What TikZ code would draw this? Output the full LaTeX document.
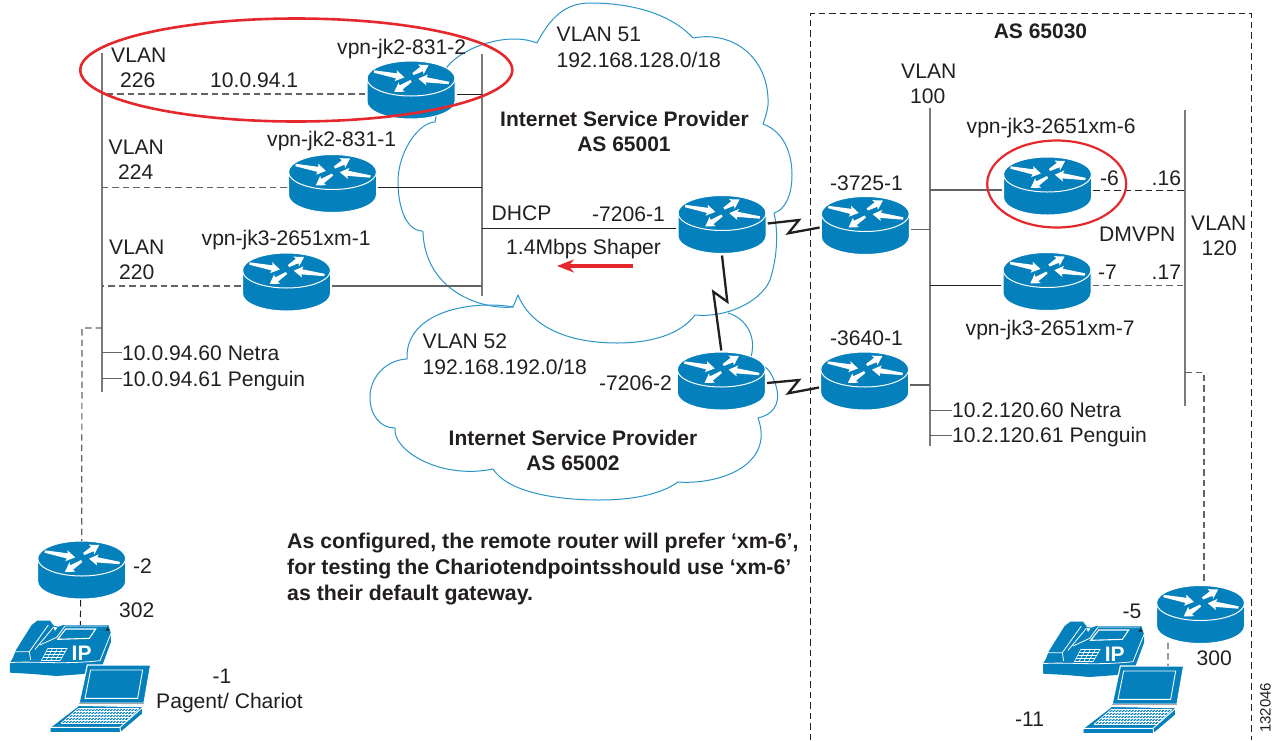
\documentclass[tikz,border=0pt]{standalone}
\usepackage{fontspec}
\setmainfont{Liberation Sans}
\usetikzlibrary{calc,arrows.meta}
\definecolor{rblue}{HTML}{0480BC}
\definecolor{cloudc}{HTML}{2A95C8}
\definecolor{ink}{HTML}{231F20}
\definecolor{greyl}{HTML}{7A7A7A}
\definecolor{redc}{HTML}{E6282D}
\newcommand{\fsz}[1]{\fontsize{#1}{#1}\selectfont}
\newcommand{\rarw}[4]{\fill[white,shift={(#1,#2)},rotate=#3] (0,-1.2)--({#4-8},-2.6)--({#4-9},-5.6)--(#4,0)--({#4-9},5.6)--({#4-8},2.6)--(0,1.2)--cycle;}
\tikzset{
  lab/.style={anchor=base west,font=\fsz{21.1},inner sep=0pt,text=ink,text height=15pt,text depth=4.5pt},
  labc/.style={lab,anchor=base},
  boldc/.style={labc,font=\fsz{21}\bfseries},
  bolda/.style={lab,font=\fsz{21.3}\bfseries},
  routernode/.style={inner sep=0pt,minimum width=91pt,minimum height=66pt},
  cloud/.style={draw=cloudc,line width=1pt},
  vbus/.style={draw=greyl,line width=1.8pt},
  seg/.style={draw=ink,line width=1pt},
  seggrey/.style={draw=ink!70,line width=1.2pt},
  dashln/.style={draw=ink,line width=1pt,dash pattern=on 6.5pt off 4pt},
  dashgr/.style={draw=ink!70,line width=1.2pt,dash pattern=on 6.5pt off 4pt},
  zz/.style={draw=ink,line width=2.3pt,line join=miter},
  redring/.style={draw=redc,line width=2.6pt},
  pics/routerglyph/.style={code={
    \filldraw[fill=rblue,draw=white,line width=1pt]
      (-44,-15.5) .. controls (-44,-25.2) and (-24.3,-33) .. (0,-33)
      .. controls (24.3,-33) and (44,-25.2) .. (44,-15.5) -- (44,7.5)
      .. controls (44,17.2) and (24.3,25) .. (0,25)
      .. controls (-24.3,25) and (-44,17.2) .. (-44,7.5) -- cycle;
    \draw[white,line width=1pt] (-44,-15.5) .. controls (-44,-5.8) and (-24.3,2) .. (0,2)
      .. controls (24.3,2) and (44,-5.8) .. (44,-15.5);
    \rarw{-37}{-22.5}{-11}{31}
    \rarw{2}{-20}{30}{18}
    \rarw{38}{-11}{172}{31}
    \rarw{0}{-13}{213}{20}
  }}
}
\newcommand{\rout}[3]{\node[routernode] (#1) at (#2,#3) {}; \pic at (#1) {routerglyph};}
% phone + laptop, drawn in a 3x grid
\newcommand{\phonelaptop}[3]{%
\begin{scope}[shift={(#1,#2)},x=.33333pt,y=-.33333pt]
  \fill[rblue] (30,398)--(38,385)--(48,360)--(95,285)--(112,272)--(150,272)--(162,288)--(175,290)--(190,285)--(325,285)--(333,310)--(333,335)--(302,420)--(250,432)--(170,438)--(100,432)--(30,428)--cycle;
  \draw[white,line width=.8pt] (30,398) .. controls (100,392) and (180,405) .. (300,392) -- (333,310);
  \draw[white,line width=.8pt] (42,365)--(88,365)--(92,390);
  \draw[white,line width=.8pt] (88,365)--(145,285);
  \draw[white,line width=.8pt] (105,358)--(160,292);
  \draw[white,line width=.8pt] (120,345)--(170,322)--(195,288)--(322,288);
  \filldraw[fill=rblue,draw=white,line width=1.1pt] (197,297)--(287,297)--(268,325)--(173,328)--cycle;
  \fill[white] (160,290)--(172,293)--(165,303)--cycle;
  \fill[ink] (316,302)--(323,292)--(328,302)--cycle;
  \foreach \t in {0,.25,.5,.75,1}
    \draw[white,line width=.6pt] ($(144,354)!\t!(124,392)$) -- ($(202,354)!\t!(180,392)$);
  \foreach \t in {0,.25,.5,.75,1}
    \draw[white,line width=.6pt] ($(144,354)!\t!(202,354)$) -- ($(124,392)!\t!(180,392)$);
  \node[inner sep=0pt,anchor=base,text=white,font=\fsz{21}\bfseries] (#3ip) at (245,391) {IP};
  % laptop
  \filldraw[fill=rblue,draw=white,line width=1.2pt] (262,405)--(452,405)--(432,520)--(237,520)--cycle;
  \draw[white,line width=.9pt] (272,420)--(428,420)--(413,505)--(255,505)--cycle;
  \filldraw[fill=rblue,draw=white,line width=1.2pt] (236,526)--(428,530)--(428,552)--(362,608)--(150,608)--(150,592)--cycle;
  \draw[white,line width=.9pt] (150,592)--(360,592)--(428,532);
  \draw[white,line width=.9pt] (360,592)--(362,608);
  \draw[black!35,line width=1pt] (237,521)--(432,521);
  \foreach \t in {0,.2,.4,.6,.8,1}
    \draw[white,line width=.7pt] ($(234,536)!\t!(183,580)$) -- ($(416,536)!\t!(372,580)$);
  \foreach \t in {0,.05,...,1.01}
    \draw[white,line width=.7pt] ($(234,536)!\t!(416,536)$) -- ($(183,580)!\t!(372,580)$);
  \coordinate (#3top) at (241,285);
  \coordinate (#3lap) at (405,405);
\end{scope}}
\begin{document}
\begin{tikzpicture}[x=1pt,y=-1pt]
\useasboundingbox (0,0) rectangle (1275,740);
\fill[white] (0,0) rectangle (1275,740);
% clouds
\draw[cloud,line join=round] (537,43) .. controls (550,18) and (565,3) .. (590,3)
  .. controls (640,3) and (675,18) .. (693,38)
  .. controls (735,30) and (770,60) .. (768,105) .. controls (767,113) and (765,118) .. (763,124)
  .. controls (785,132) and (792,155) .. (792,175) .. controls (792,195) and (785,210) .. (774,213)
  .. controls (778,230) and (778,255) .. (770,280) .. controls (760,303) and (725,318) .. (695,315)
  .. controls (680,335) and (650,343) .. (617,343) .. controls (565,343) and (530,325) .. (518,295)
  -- (513,307)
  .. controls (480,310) and (425,290) .. (423,232)
  -- (422,231) .. controls (405,230) and (398,205) .. (398,182)
  .. controls (398,150) and (420,122) .. (435,122) -- (436,117)
  -- (447,67) .. controls (465,45) and (510,32) .. (537,43);
\draw[cloud,line join=round] (513,307) .. controls (475,300) and (405,310) .. (407,359)
  .. controls (385,360) and (370,378) .. (370,397) .. controls (370,415) and (380,428) .. (395,428)
  .. controls (392,450) and (440,480) .. (493,469)
  .. controls (510,495) and (565,500) .. (600,500) .. controls (630,500) and (660,495) .. (678,482)
  .. controls (720,485) and (775,465) .. (758,418)
  .. controls (772,415) and (780,405) .. (777,390) .. controls (775,380) and (770,370) .. (765,367)
  -- (751,357) .. controls (757,335) and (745,318) .. (728,313);
% AS box
\draw[dashln] (810.7,740) -- (810.7,13) -- (1251,13) -- (1251,740);
% buses
\coordinate (busL) at (102,53);
\coordinate (busLe) at (102,392);
\coordinate (busM) at (482,54);
\coordinate (busMe) at (482,296);
\coordinate (busC) at (930,108);
\coordinate (busCe) at (930,446);
\coordinate (busR) at (1185,110);
\coordinate (busRe) at (1185,406);
\draw[vbus] (busL) -- (busLe);
\draw[vbus] (busM) -- (busMe);
\draw[vbus,line width=1.5pt] (busC) -- (busCe);
\draw[vbus] (busR) -- (busRe);
% routers
\rout{rA}{411}{94}
\rout{rB}{332.5}{187.5}
\rout{rC}{286.5}{286}
\rout{rD}{722}{228.5}
\rout{rE}{865.3}{229.5}
\rout{rF}{721.3}{385}
\rout{rG}{864.7}{385}
\rout{rH}{1047.5}{190}
\rout{rI}{1047}{285.5}
\rout{rJ}{81.7}{574}
\rout{rK}{1200.5}{618.5}
% phones and laptops
\phonelaptop{0}{530}{sa}
\phonelaptop{1033}{531}{sb}
% left connectors
\draw[dashgr] (rA.west) -- (rA.west -| busL);
\draw[seg] (rA.east) -- (rA.east -| busM);
\draw[dashgr] (rB.west) -- (rB.west -| busL);
\draw[seg] (rB.east) -- (rB.east -| busM);
\draw[dashgr] (rC.west) -- (rC.west -| busL);
\draw[seggrey] (rC.east) -- (rC.east -| busM);
\draw[seg] (rD.west) -- (rD.west -| busM);
\coordinate (tapL) at (102,328);
\draw[dashgr] (tapL) -- (82,328) -- ([yshift=33pt]rJ.center);
\draw[dashln] ([xshift=-1pt,yshift=-26pt]rJ.center) -- (satop);
% right connectors
\draw[seggrey] (rE.east) -- (rE.east -| busC);
\draw[seggrey] (rG.east) -- (rG.east -| busC);
\draw[seggrey] (rH.west) -- (rH.west -| busC);
\draw[seg] (rI.west) -- (rI.west -| busC);
\draw[dashln] (rH.east) -- (rH.east -| busR);
\draw[dashgr] (rI.east) -- (rI.east -| busR);
\coordinate (tapR) at (1185,372.5);
\draw[dashgr] (tapR) -- (1204,372.5) -- ([xshift=3.5pt,yshift=35pt]rK.center);
\draw[dashgr] ([xshift=-32.5pt,yshift=-24pt]rK.center) -- (sblap);
% serial links
\draw[zz] ([yshift=5pt]rD.east) -- (799,220) -- (788.3,233.3) -- ([yshift=2pt]rE.west);
\draw[zz] ([yshift=2pt]rF.east) -- (799,380) -- (788.3,393.3) -- ([yshift=-2.5pt]rG.west);
\draw[zz] ([yshift=-27pt]rD.center) -- (727.3,301.7) -- (713.3,291.7) -- ([yshift=34.5pt]rF.center);
% shaper arrow
\coordinate (shapeA) at (633,266);
\coordinate (shapeB) at (557,266);
\draw[redc,line width=3.6pt,-{Stealth[length=17pt,width=13pt]}] (shapeA) -- (shapeB);
% red rings
\draw[redring] (296.3,70) ellipse (216 and 51.5);
\draw[redring,line width=2.2pt] (1056.7,184) ellipse (69.5 and 43.5);
% labels
\node[lab] (t1) at (111,62) {VLAN};
\node[lab] (t2) at (120,87) {226};
\node[lab] (t3) at (210,87) {10.0.94.1};
\node[lab] (t4) at (337,54.5) {vpn-jk2-831-2};
\node[lab] (t5) at (108.5,154) {VLAN};
\node[lab] (t6) at (118,179) {224};
\node[lab] (t7) at (267,146.5) {vpn-jk2-831-1};
\node[lab] (t8) at (109,254) {VLAN};
\node[lab] (t9) at (119,279) {220};
\node[lab] (t10) at (201.5,245.5) {vpn-jk3-2651xm-1};
\node[lab] (t11) at (122,360) {10.0.94.60 Netra};
\node[lab] (t12) at (122,386) {10.0.94.61 Penguin};
\draw[seggrey] ([yshift=2pt]t11.west -| busL) -- ([yshift=2pt]t11.west);
\draw[seggrey] ([yshift=2pt]t12.west -| busL) -- ([yshift=2pt]t12.west);
\node[lab] (t13) at (556.5,41.5) {VLAN 51};
\node[lab] (t14) at (556.5,67.5) {192.168.128.0/18};
\node[boldc] (t15) at (624.5,126.5) {Internet Service Provider};
\node[boldc] (t16) at (624,151.5) {AS 65001};
\node[lab] (t17) at (491.5,220.5) {DHCP};
\node[lab] (t18) at (592,221) {-7206-1};
\node[lab] (t19) at (506,254) {1.4Mbps Shaper};
\node[lab] (t20) at (422.5,348.5) {VLAN 52};
\node[lab] (t21) at (422.5,374) {192.168.192.0/18};
\node[lab] (t22) at (599,390) {-7206-2};
\node[boldc] (t23) at (573,445) {Internet Service Provider};
\node[boldc] (t24) at (573,470.5) {AS 65002};
\node[boldc] (t25) at (1040.5,38) {AS 65030};
\node[lab] (t26) at (901,78) {VLAN};
\node[lab] (t27) at (910,103.5) {100};
\node[lab] (t28) at (830,190) {-3725-1};
\node[lab] (t29) at (830,345) {-3640-1};
\node[lab] (t30) at (966.5,133.5) {vpn-jk3-2651xm-6};
\node[lab] (t31) at (1100,185.5) {-6};
\node[lab] (t32) at (1151.5,185.5) {.16};
\node[lab] (t33) at (1099,241.5) {DMVPN};
\node[lab] (t34) at (1191,230.5) {VLAN};
\node[lab] (t35) at (1201.5,255.5) {120};
\node[lab] (t36) at (1098,279.5) {-7};
\node[lab] (t37) at (1151.5,279) {.17};
\node[lab] (t38) at (965.5,335) {vpn-jk3-2651xm-7};
\node[lab] (t39) at (952,417.5) {10.2.120.60 Netra};
\node[lab] (t40) at (952,442.5) {10.2.120.61 Penguin};
\draw[seggrey] ([yshift=1.5pt]t39.west -| busC) -- ([yshift=1.5pt]t39.west);
\draw[seggrey] ([yshift=1.5pt]t40.west -| busC) -- ([yshift=1.5pt]t40.west);
\node[bolda] (t41) at (287,548) {As configured, the remote router will prefer ‘xm-6’,};
\node[bolda] (t42) at (287,574.5) {for testing the Chariotendpointsshould use ‘xm-6’};
\node[bolda] (t43) at (287,600.5) {as their default gateway.};
\node[lab] (t44) at (133,573.5) {-2};
\node[lab] (t45) at (119,617.5) {302};
\node[lab] (t46) at (212.5,683) {-1};
\node[lab] (t47) at (156,708.5) {Pagent/ Chariot};
\node[lab] (t48) at (1122.5,618.5) {-5};
\node[lab] (t49) at (1196.5,665) {300};
\node[lab] (t50) at (1015,726) {-11};
\node[lab,rotate=90,font=\fsz{15},text height=11pt,text depth=0pt] (t51) at (1270.5,733) {132046};
\end{tikzpicture}
\end{document}
